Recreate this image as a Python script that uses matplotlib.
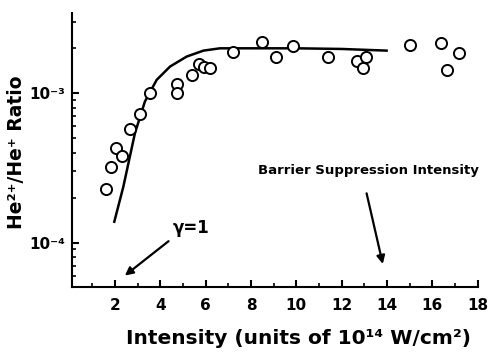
import numpy as np
import matplotlib.pyplot as plt
from matplotlib.ticker import FixedLocator, NullFormatter, LogLocator, FuncFormatter

plt.rcParams['font.family'] = ['DejaVu Sans']
plt.rcParams['font.weight'] = 'bold'

# measured He2+/He+ ratio vs intensity (1e14 W/cm^2)
meas_x = [1.60, 1.81, 2.03, 2.29, 2.66, 3.10, 3.53, 4.72, 4.72, 5.40, 5.72,
          5.93, 6.19, 7.22, 8.47, 9.10, 9.84, 11.40, 12.66, 13.06, 12.95,
          15.01, 16.37, 16.63, 17.19]
meas_y = [2.29e-4, 3.2e-4, 4.33e-4, 3.82e-4, 5.8e-4, 7.3e-4, 1.01e-3, 1.15e-3,
          1.0e-3, 1.32e-3, 1.57e-3, 1.5e-3, 1.47e-3, 1.88e-3, 2.21e-3, 1.76e-3,
          2.07e-3, 1.76e-3, 1.64e-3, 1.76e-3, 1.47e-3, 2.1e-3, 2.16e-3, 1.43e-3,
          1.85e-3]

# calculated curve
calc_x = [1.97, 2.37, 2.88, 3.32, 3.84, 4.43, 5.16, 5.90, 6.63, 8.0, 10.0, 12.0, 13.98]
calc_y = [1.38e-4, 2.37e-4, 5.4e-4, 8.8e-4, 1.23e-3, 1.51e-3, 1.76e-3, 1.93e-3,
          2.0e-3, 2.0e-3, 2.0e-3, 1.98e-3, 1.93e-3]

x_ticks = [2, 4, 6, 8, 10, 12, 14, 16, 18]
sup = str.maketrans('0123456789-', '⁰¹²³⁴⁵⁶⁷⁸⁹⁻')

fig = plt.figure(figsize=(4.89, 3.6), dpi=100)
ax = fig.add_axes([0.147, 0.204, 0.83, 0.759])

ax.plot(calc_x, calc_y, color='black', lw=1.8)
ax.plot(meas_x, meas_y, 'o', ms=8, mfc='white', mec='black', mew=1.4)

ax.set_yscale('log')
ax.set_xlim(0.1, 18)
ax.set_ylim(5.08e-5, 3.43e-3)

ax.spines['top'].set_visible(False)
ax.spines['right'].set_visible(False)
ax.spines['left'].set_linewidth(1.5)
ax.spines['bottom'].set_linewidth(1.5)

ax.xaxis.set_major_locator(FixedLocator(x_ticks))
ax.xaxis.set_minor_locator(FixedLocator([t - 1 for t in x_ticks]))
ax.yaxis.set_major_locator(LogLocator(base=10, numticks=10))
ax.yaxis.set_minor_locator(LogLocator(base=10, subs=np.arange(2, 10), numticks=10))
ax.yaxis.set_minor_formatter(NullFormatter())
ax.yaxis.set_major_formatter(FuncFormatter(
    lambda v, p: '10' + str(round(np.log10(v))).translate(sup)))

ax.tick_params(which='major', direction='in', length=5, width=1.5, labelsize=11)
ax.tick_params(axis='x', which='major', pad=8)
ax.tick_params(axis='y', which='major', pad=5)
ax.tick_params(which='minor', direction='in', length=3, width=1.2)
for lab in ax.get_xticklabels() + ax.get_yticklabels():
    lab.set_fontweight('bold')

ax.set_xlabel('Intensity (units of 10¹⁴ W/cm²)', fontsize=14.5, fontweight='bold')
ax.xaxis.set_label_coords(0.558, -0.155)
ax.set_ylabel('He²⁺/He⁺ Ratio', fontsize=13.5, fontweight='bold')
ax.yaxis.set_label_coords(-0.113, 0.49)

ax.text(4.56, 1.25e-4, 'γ=1', fontsize=12, fontweight='bold', ha='left', va='center')
ax.annotate('', xy=(2.34, 5.86e-5), xytext=(4.46, 1.05e-4),
            arrowprops=dict(arrowstyle='-|>', color='black', lw=1.6, mutation_scale=12))

ax.text(13.2, 3.03e-4, 'Barrier Suppression Intensity', fontsize=9.5,
        fontweight='bold', ha='center', va='center')
ax.annotate('', xy=(13.84, 6.9e-5), xytext=(13.07, 2.23e-4),
            arrowprops=dict(arrowstyle='-|>', color='black', lw=1.6, mutation_scale=12))

fig.savefig('out.png', dpi=100)
